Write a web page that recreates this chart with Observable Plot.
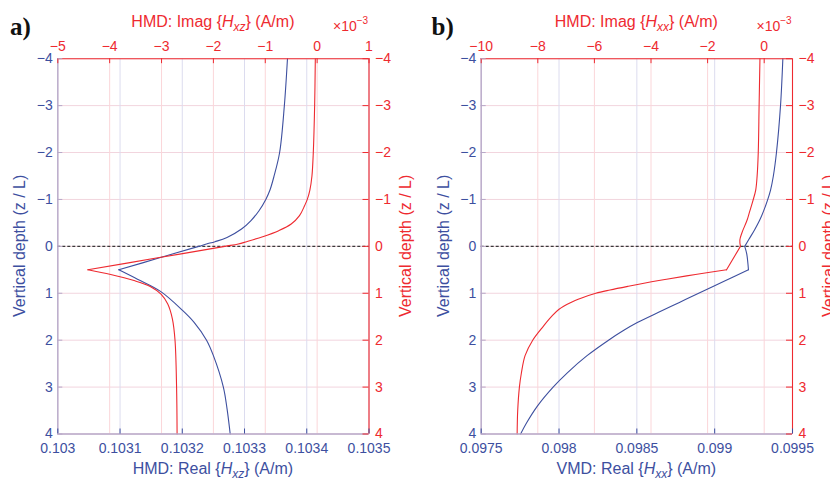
<!DOCTYPE html>
<html><head><meta charset="utf-8">
<script src="https://cdn.jsdelivr.net/npm/d3@7"></script>
<script src="https://cdn.jsdelivr.net/npm/@observablehq/plot@0.6"></script>
<style>
html,body{margin:0;padding:0;background:#fff;}
#chart{position:relative;width:830px;height:481px;overflow:hidden;background:#fff;}
#chart svg{position:absolute;left:0;top:0;}
</style></head><body><div id="chart"></div>
<script>
// ---------- data ----------
const depthTicks = [-4, -3, -2, -1, 0, 1, 2, 3, 4];
const depthLabels = ["−4", "−3", "−2", "−1", "0", "1", "2", "3", "4"];

const aRealTicks = [0.103, 0.1031, 0.1032, 0.1033, 0.1034, 0.1035];
const aRealLabels = ["0.103", "0.1031", "0.1032", "0.1033", "0.1034", "0.1035"];
const aImagTicks = [-5, -4, -3, -2, -1, 0, 1];
const aImagLabels = ["−5", "−4", "−3", "−2", "−1", "0", "1"];

const bRealTicks = [0.0975, 0.098, 0.0985, 0.099, 0.0995];
const bRealLabels = ["0.0975", "0.098", "0.0985", "0.099", "0.0995"];
const bImagTicks = [-10, -8, -6, -4, -2, 0];
const bImagLabels = ["−10", "−8", "−6", "−4", "−2", "0"];

// panel a: HMD Real{Hxz} (blue) vs depth z/L
const aRealZ = [-4, -3, -2, -1.5, -1.2, -1, -0.76, -0.55, -0.37, -0.19, -0.1, -0.05, 0, 0.25, 0.5, 0.7, 0.96, 1.36, 1.62, 2, 2.33, 3, 3.47, 4];
const aRealV = [0.103369, 0.103364, 0.1033564, 0.1033475, 0.1033409, 0.1033342, 0.1033233, 0.1033104, 0.1032952, 0.1032719, 0.1032526, 0.1032389, 0.1032264, 0.1031622, 0.103098, 0.103128, 0.103165, 0.1032, 0.103219, 0.103239, 0.10325, 0.103266, 0.103272, 0.103277];
// panel a: HMD Imag{Hxz} (red, x10^-3)
const aImagZ = [-4, -3, -2, -1.5, -1.2, -1, -0.87, -0.655, -0.477, -0.335, -0.206, -0.1, -0.05, 0, 0.25, 0.5, 0.6, 0.73, 0.86, 1.02, 1.23, 1.55, 2, 3, 4];
const aImagV = [-0.035, -0.048, -0.074, -0.10, -0.14, -0.19, -0.24, -0.34, -0.50, -0.74, -1.05, -1.36, -1.52, -1.78, -3.10, -4.42, -3.98, -3.53, -3.21, -3.01, -2.88, -2.79, -2.74, -2.71, -2.70];

// panel b: VMD Real{Hxx} (blue)
const bRealZ = [-4, -3, -2, -1.5, -1.2, -0.97, -0.75, -0.55, -0.35, -0.15, 0, 0.16, 0.5, 0.75, 1, 1.2, 1.4, 1.62, 1.8, 2, 2.33, 2.69, 3, 3.4, 3.76, 4];
const bRealV = [0.099438, 0.099423, 0.099397, 0.099377, 0.099359, 0.099338, 0.099314, 0.099288, 0.099256, 0.09922, 0.099193, 0.099206, 0.099217, 0.099057, 0.098897, 0.09877, 0.098643, 0.098506, 0.098411, 0.098318, 0.09818, 0.098055, 0.097962, 0.097862, 0.097792, 0.097753];
// panel b: HMD Imag{Hxx} (red, x10^-3)
const bImagZ = [-4, -3, -2, -1.5, -1.2, -0.97, -0.73, -0.55, -0.3, -0.135, 0, 0.5, 0.6, 0.7, 0.755, 0.85, 0.93, 1, 1.1, 1.2, 1.34, 1.5, 1.7, 2, 2.33, 2.7, 3, 3.5, 4];
const bImagV = [-0.15, -0.18, -0.21, -0.25, -0.30, -0.40, -0.52, -0.61, -0.78, -0.86, -0.84, -1.33, -2.43, -3.45, -3.98, -4.80, -5.45, -5.95, -6.45, -6.85, -7.25, -7.52, -7.80, -8.18, -8.45, -8.58, -8.65, -8.71, -8.73];

// ---------- style ----------
const BLUE = "#3d4f9f", RED = "#ee2a30", LAV = "#b7a8c8";
const GRID_H = "#f2d5de", GRID_R = "#fbd6d9", GRID_B = "#dcdcef";
const FONT = "'Liberation Sans', Arial, Helvetica, sans-serif";
const W = 830, H = 481;
const chart = document.getElementById("chart");

function richText(svg, x, y, parts, {color, anchor = "middle", size = 16, rotate = 0} = {}) {
  const t = d3.select(svg).append("text")
    .attr("transform", `translate(${x},${y}) rotate(${rotate})`)
    .attr("text-anchor", anchor).attr("fill", color)
    .style("font-family", FONT).style("font-size", size + "px");
  parts.forEach(p => {
    const s = t.append("tspan").text(p.t);
    if (p.i) s.style("font-style", "italic");
    if (p.s) s.style("font-size", p.s + "px");
    if (p.dy) s.attr("dy", p.dy);
  });
  return t;
}

function panel(o) {
  const innerW = W - o.ml - o.mr, innerH = H - o.mt - o.mb;
  const toX = d3.scaleLinear().domain(o.imagDomain).range(o.realDomain);
  const bounds = [-Infinity, ...o.breaks, Infinity];
  const rows = (zs, vs, f) => {
    const out = [];
    zs.forEach((z, i) => {
      const x = f(vs[i]);
      for (let k = 0; k < bounds.length - 1; k++) {
        if (z >= bounds[k] && z <= bounds[k + 1]) out.push({z, x, seg: k});
      }
    });
    return out;
  };
  const realRows = rows(o.realZ, o.realV, v => v);
  const imagRows = rows(o.imagZ, o.imagV, toX);
  const imagX = o.imagTicks.map(toX);
  const imagFmt = d => o.imagLabels[imagX.findIndex(t => Math.abs(t - d) < 1e-12)];
  const realFmt = d => o.realLabels[o.realTicks.indexOf(d)];
  const depthFmt = d => depthLabels[depthTicks.indexOf(d)];

  const svg = Plot.plot({
    width: W, height: H,
    marginLeft: o.ml, marginRight: o.mr, marginTop: o.mt, marginBottom: o.mb,
    style: {fontFamily: FONT, fontSize: "14px", background: "transparent", overflow: "visible"},
    x: {domain: o.realDomain},
    y: {domain: [-4, 4], reverse: true},
    marks: [
      Plot.ruleY(depthTicks, {stroke: GRID_H, strokeWidth: 1}),
      Plot.ruleX(imagX, {stroke: GRID_R, strokeWidth: 1}),
      Plot.ruleX(o.realTicks, {stroke: GRID_B, strokeWidth: 1}),
      Plot.ruleY([0], {stroke: "#3a3a3a", strokeWidth: 1.2, strokeDasharray: "3,2"}),
      Plot.line(realRows, {x: "x", y: "z", z: "seg", stroke: BLUE, strokeWidth: 1.1, curve: "catmull-rom"}),
      Plot.line(imagRows, {x: "x", y: "z", z: "seg", stroke: RED, strokeWidth: 1.1, curve: "catmull-rom"}),
      // frame
      Plot.ruleX([o.realDomain[0]], {stroke: LAV, strokeWidth: 1.3}),
      Plot.ruleY([4], {stroke: LAV, strokeWidth: 1.3}),
      Plot.ruleY([-4], {stroke: RED, strokeWidth: 1.1}),
      Plot.ruleX([o.realDomain[1]], {stroke: RED, strokeWidth: 1.1}),
      // inward ticks
      Plot.tickX(o.realTicks, {stroke: BLUE, insetTop: innerH - 5}),
      Plot.tickX(imagX, {stroke: RED, insetBottom: innerH - 5}),
      Plot.tickY(depthTicks, {stroke: LAV, insetRight: innerW - 5}),
      Plot.tickY(depthTicks, {stroke: RED, insetLeft: innerW - 6}),
      // axes
      Plot.axisX(o.realTicks, {anchor: "bottom", tickSize: 0, tickPadding: 9, tickFormat: realFmt, color: BLUE, fontSize: 14, label: null}),
      Plot.axisX(imagX, {anchor: "top", tickSize: 0, tickPadding: 8, tickFormat: imagFmt, color: RED, fontSize: 14, label: null}),
      Plot.axisY(depthTicks, {anchor: "left", tickSize: 0, tickPadding: 5, tickFormat: depthFmt, color: BLUE, fontSize: 14, label: null}),
      Plot.axisY(depthTicks, {anchor: "right", tickSize: 0, tickPadding: 6, tickFormat: depthFmt, color: RED, fontSize: 14, label: null})
    ]
  });
  chart.appendChild(svg);

  const cx = o.ml + innerW / 2, cy = o.mt + innerH / 2;
  // panel letter
  d3.select(svg).append("text").attr("x", o.letterX).attr("y", 35).text(o.letter)
    .attr("text-anchor", "start")
    .attr("fill", "#111").style("font-family", "'Liberation Serif', 'Times New Roman', serif")
    .style("font-weight", "bold").style("font-size", "25px");
  // top title
  richText(svg, cx, 26.5, [{t: o.topPre}, {t: "H", i: true}, {t: o.sub, i: true, s: 12, dy: 4}, {t: "} (A/m)", dy: -4}], {color: RED});
  // x10^-3
  richText(svg, o.ml + innerW - 35.5, 30.5, [{t: "×10"}, {t: "−3", s: 10, dy: -7}], {color: RED, anchor: "start", size: 14});
  // bottom title
  richText(svg, cx, 474, [{t: o.botPre}, {t: "H", i: true}, {t: o.sub, i: true, s: 12, dy: 4}, {t: "} (A/m)", dy: -4}], {color: BLUE});
  // side titles
  richText(svg, o.ml - 32, cy, [{t: "Vertical depth (z / L)"}], {color: BLUE, rotate: -90});
  richText(svg, o.ml + innerW + 42, cy, [{t: "Vertical depth (z / L)"}], {color: RED, rotate: -90});
}

panel({
  ml: 57.3, mr: W - 368.5, mt: 58.2, mb: H - 433.5,
  realDomain: [0.103, 0.1035], imagDomain: [-5, 1], breaks: [0.5],
  realTicks: aRealTicks, realLabels: aRealLabels, imagTicks: aImagTicks, imagLabels: aImagLabels,
  realZ: aRealZ, realV: aRealV, imagZ: aImagZ, imagV: aImagV,
  letter: "a)", letterX: 10,
  topPre: "HMD: Imag {", botPre: "HMD: Real {", sub: "xz"
});
panel({
  ml: 480.7, mr: W - 792, mt: 58.2, mb: H - 433.5,
  realDomain: [0.0975, 0.0995], imagDomain: [-10, 1], breaks: [0, 0.5],
  realTicks: bRealTicks, realLabels: bRealLabels, imagTicks: bImagTicks, imagLabels: bImagLabels,
  realZ: bRealZ, realV: bRealV, imagZ: bImagZ, imagV: bImagV,
  letter: "b)", letterX: 431.5,
  topPre: "HMD: Imag {", botPre: "VMD: Real {", sub: "xx"
});
</script></body></html>
